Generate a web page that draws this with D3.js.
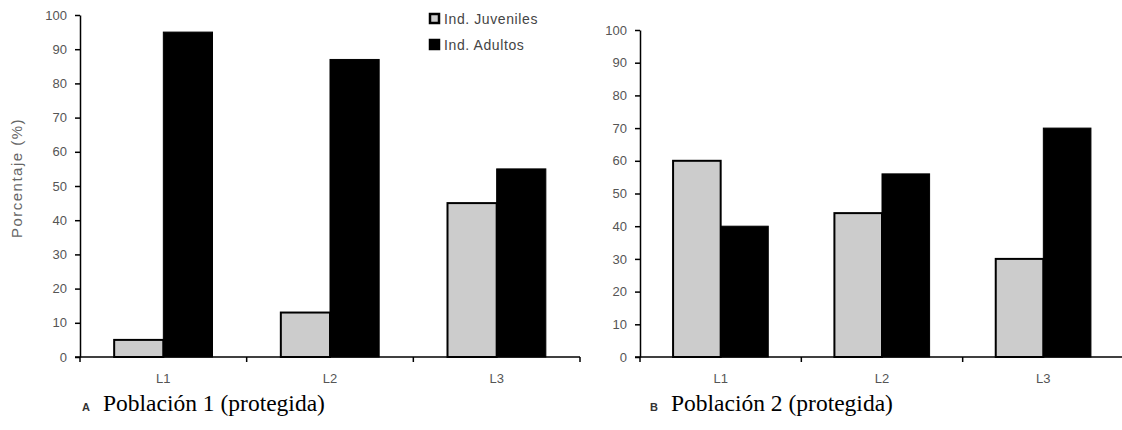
<!DOCTYPE html>
<html>
<head>
<meta charset="utf-8">
<script src="https://cdn.jsdelivr.net/npm/d3@7"></script>
<style>
body{margin:0;background:#fff;}
svg text{font-family:"Liberation Sans",Arial,sans-serif;}
.axis text{font-size:13px;fill:#555;}
.axis path,.axis line{stroke:#000;stroke-width:1.5;}
.cap{font-family:"Liberation Serif","Times New Roman",serif !important;font-size:23.5px;fill:#000;}
</style>
</head>
<body>
<div id="chart"></div>
<script>
// data
var categories=["L1","L2","L3"];
var series=["Ind. Juveniles","Ind. Adultos"];
var pop1Juveniles=[5,13,45];
var pop1Adultos=[95,87,55];
var pop2Juveniles=[60,44,30];
var pop2Adultos=[40,56,70];
var yTicks=[0,10,20,30,40,50,60,70,80,90,100];
var colors=["#cccccc","#000000"];

var svg=d3.select('#chart').append('svg')
	.attr('width',1122).attr('height',430);

function drawPanel(left,right,top,bottom,juv,adu,letter,caption,capX,showYLabel){
	var x=d3.scaleBand().domain(categories).range([left,right]);
	var groupW=x.bandwidth()*0.59;
	var xs=d3.scaleBand().domain(series).range([0,groupW]);
	var y=d3.scaleLinear().domain([0,100]).range([bottom,top]);
	var g=svg.append('g');

	var data=categories.map(function(c,i){return {cat:c,vals:[juv[i],adu[i]]};});
	var grp=g.selectAll('.grp').data(data).enter().append('g')
		.attr('transform',function(d){return 'translate('+(x(d.cat)+x.bandwidth()/2-groupW/2)+',0)';});
	grp.selectAll('rect').data(function(d){return d.vals.map(function(v,j){return {v:v,s:series[j],j:j};});})
		.enter().append('rect')
		.attr('x',function(d){return xs(d.s);})
		.attr('width',xs.bandwidth())
		.attr('y',function(d){return y(d.v);})
		.attr('height',function(d){return bottom-y(d.v);})
		.attr('fill',function(d){return colors[d.j];})
		.attr('stroke','#000')
		.attr('stroke-width',function(d){return d.j==0?2:1;});

	// y axis
	var yAxis=d3.axisLeft(y).tickValues(yTicks).tickSize(5).tickSizeOuter(0).tickPadding(8);
	g.append('g').attr('class','axis').attr('transform','translate('+left+',0)').call(yAxis);

	// x axis with ticks at category boundaries
	var xg=g.append('g').attr('class','axis');
	xg.append('line').attr('x1',left-5).attr('x2',right).attr('y1',bottom).attr('y2',bottom);
	var bounds=categories.map(function(c){return x(c);}).concat([right]);
	xg.selectAll('.bt').data(bounds).enter().append('line')
		.attr('x1',function(d){return d;}).attr('x2',function(d){return d;})
		.attr('y1',bottom).attr('y2',bottom+5);
	xg.selectAll('.cl').data(categories).enter().append('text')
		.attr('x',function(d){return x(d)+x.bandwidth()/2;})
		.attr('y',bottom+26)
		.attr('text-anchor','middle')
		.text(function(d){return d;});

	if(showYLabel){
		g.append('text')
			.attr('transform','translate(22,178) rotate(-90)')
			.attr('text-anchor','middle')
			.style('font-size','15px').style('letter-spacing','1.5px').style('fill','#666')
			.text('Porcentaje (%)');
	}

	g.append('text').attr('x',capX).attr('y',411)
		.style('font-size','11px').style('font-weight','bold').style('fill','#333')
		.text(letter);
	g.append('text').attr('class','cap').attr('x',capX+21).attr('y',411).text(caption);
}

drawPanel(80,580,15,357,pop1Juveniles,pop1Adultos,'A','Población 1 (protegida)',82,true);
drawPanel(640,1124,30,357,pop2Juveniles,pop2Adultos,'B','Población 2 (protegida)',650,false);

// legend
var leg=svg.append('g').attr('transform','translate(430,14)');
series.forEach(function(s,i){
	leg.append('rect').attr('x',0).attr('y',i*26)
		.attr('width',9).attr('height',9)
		.attr('fill',colors[i]).attr('stroke','#000').attr('stroke-width',2.5);
	leg.append('text').attr('x',14).attr('y',i*26+10)
		.style('font-size','14px').style('letter-spacing','0.6px').style('fill','#444').text(s);
});
</script>
</body>
</html>
